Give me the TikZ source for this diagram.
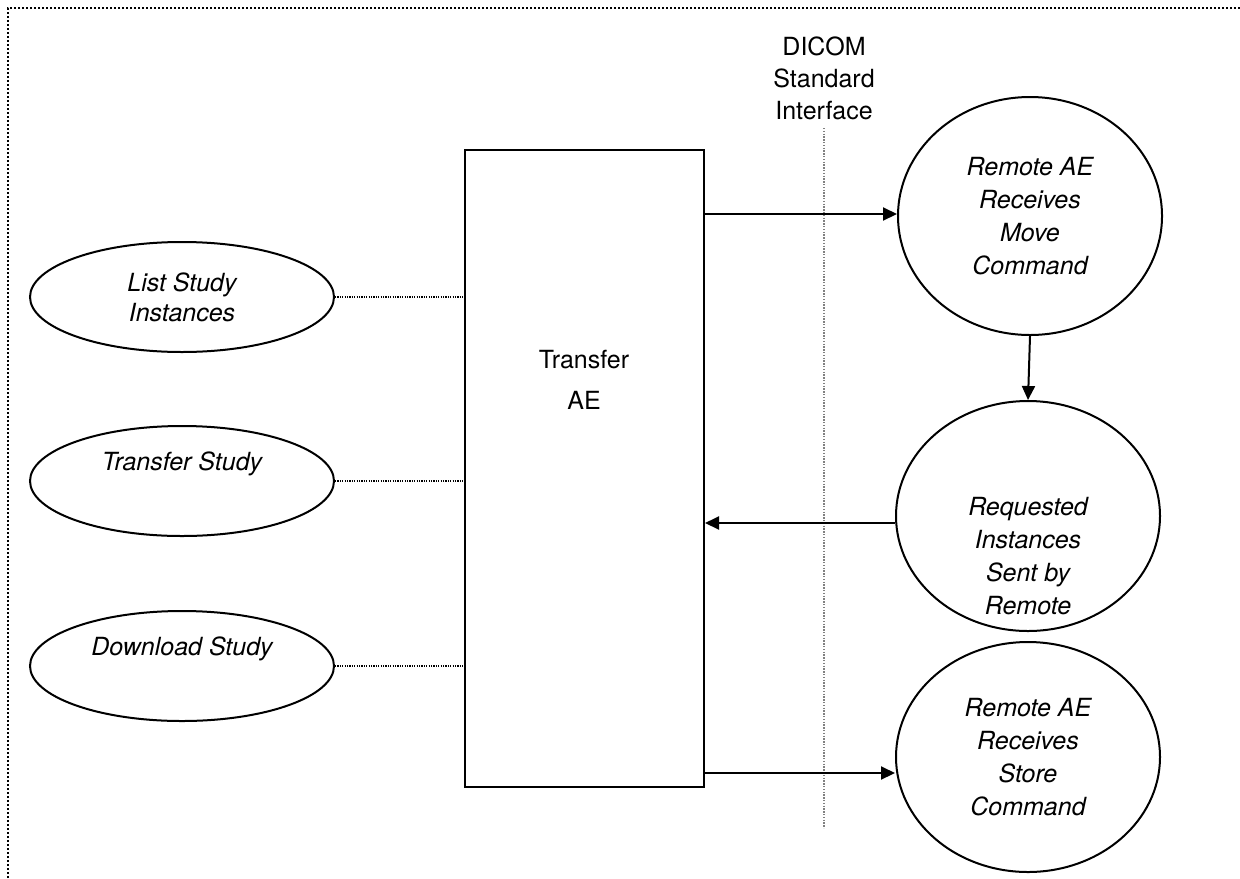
\documentclass[tikz,border=0pt]{standalone}
\usepackage{fontspec}
\setmainfont{TeX Gyre Heros}
\usetikzlibrary{shapes.geometric,arrows.meta}
\begin{document}
\begin{tikzpicture}[x=0.5pt,y=-0.5pt,
    usecase/.style={draw,line width=1pt,ellipse,inner sep=0pt,align=center,
      minimum width=152pt,minimum height=55pt,
      font=\fontsize{12.5}{15}\selectfont\itshape},
    remote/.style={draw,line width=1pt,ellipse,inner sep=0pt,align=center,
      minimum width=132pt,minimum height=115pt,
      font=\fontsize{12.5}{16.5}\selectfont\itshape},
    aebox/.style={draw,line width=1pt,rectangle,inner sep=0pt,
      minimum width=119.5pt,minimum height=318.5pt},
    link/.style={line width=.6pt,dash pattern=on .6pt off .6pt},
    flow/.style={line width=1pt,-{Triangle[length=7pt,width=6.5pt]}}]
\useasboundingbox (0,0) rectangle (1240,878);
\draw[line width=1pt,dash pattern=on 1pt off 1pt] (8,878) -- (8,8) -- (1240,8);
\node (dicom) [align=center,font=\fontsize{12.5}{16}\selectfont] at (824,78)
    {DICOM\\Standard\\Interface};
\draw[gray,line width=.7pt,dash pattern=on .7pt off .7pt] (824,128) -- (824,828);
\node (tae) [aebox] at (584.5,468.5) {};
\node (taelbl) [align=center,font=\fontsize{12.5}{20.5}\selectfont] at (584,380)
    {Transfer\\AE};
% use cases, text sits high in the one-line ones
\node (ls) [usecase] at (182,297) {List Study\\Instances};
\node (ts) [usecase,text depth=20pt] at (182,481) {Transfer Study};
\node (ds) [usecase,text depth=20pt] at (182,666) {Download Study};
% remote side
\node (mv) [remote,minimum height=119pt] at (1030,216) {Remote AE\\Receives\\Move\\Command};
\node (rq) [remote] at (1028,516) {};
\node (rqlbl) [align=center,font=\fontsize{12.5}{16.5}\selectfont\itshape] at (1028,556)
    {Requested\\Instances\\Sent by\\Remote};
\node (st) [remote] at (1028,757) {Remote AE\\Receives\\Store\\Command};
\foreach \uc in {ls,ts,ds}
  \draw[link] (\uc.east) -- (\uc.east -| tae.west);
\draw[flow] (tae.east |- 0,214) -- (mv.west |- 0,214);
\draw[flow] (mv.south) -- (rq.north);
\draw[flow] (rq.west |- 0,523) -- (tae.east |- 0,523);
\draw[flow] (tae.east |- 0,773) -- (st.west |- 0,773);
\end{tikzpicture}
\end{document}
